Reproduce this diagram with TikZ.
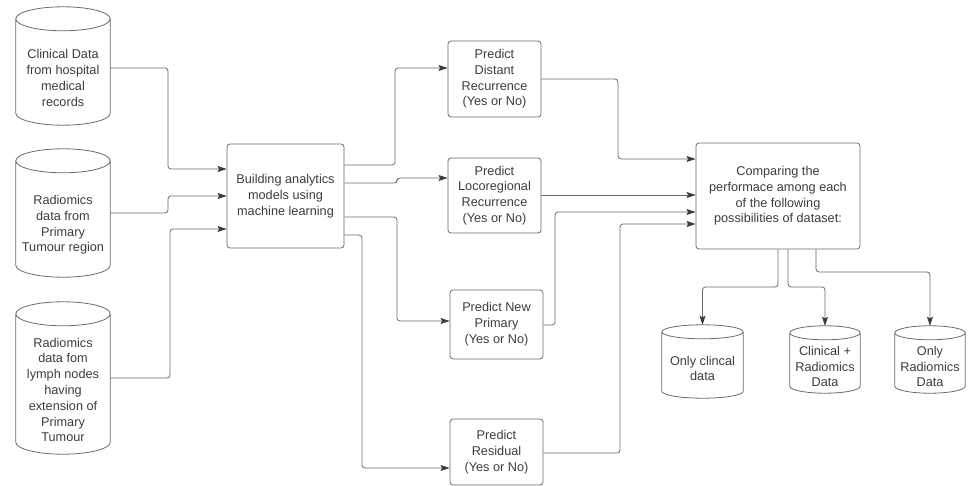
\documentclass[tikz,border=0pt]{standalone}
\usepackage{fontspec}
\setmainfont{Liberation Sans}
\usepackage{tikz}
\usetikzlibrary{arrows.meta,calc}
\definecolor{linegray}{HTML}{6A6A6A}
\definecolor{textgray}{HTML}{3C3C3C}

\begin{document}
\begin{tikzpicture}[x=1pt, y=-1pt,
  box/.style={draw=linegray, line width=0.8pt, rounded corners=3pt, align=center, text=textgray, font=\fontsize{12.7}{15.8}\selectfont, inner sep=0pt},
  store/.style={align=center, text=textgray, font=\fontsize{12.7}{15.8}\selectfont, inner sep=0pt},
  rim/.style={draw=linegray, line width=0.8pt},
  link/.style={draw=linegray, line width=0.8pt, rounded corners=3pt, -{Stealth[length=9pt,width=6pt,inset=1.5pt,color=textgray]}}]
\useasboundingbox (0,0) rectangle (969,486);

\node[store, minimum width=94pt, minimum height=94pt] (clin) at (63,78) {Clinical Data\\from hospital\\medical\\records};
\node[store, minimum width=94pt, minimum height=104pt] (radp) at (63,225) {Radiomics\\data from\\Primary\\Tumour region};
\node[store, minimum width=94pt, minimum height=128pt] (radl) at (63,390) {Radiomics\\data fom\\lymph nodes\\having\\extension of\\Primary\\Tumour};

\node[box, minimum width=117pt, minimum height=104pt] (build) at (285.5,196) {Building analytics\\models using\\machine learning};

\node[box, minimum width=93pt, minimum height=76pt] (dist) at (494.5,79) {Predict\\Distant\\Recurrence\\(Yes or No)};
\node[box, minimum width=93pt, minimum height=75pt] (loco) at (494.5,195.5) {Predict\\Locoregional\\Recurrence\\(Yes or No)};
\node[box, minimum width=93pt, minimum height=69pt] (newp) at (496.5,324.5) {Predict New\\Primary\\(Yes or No)};
\node[box, minimum width=93pt, minimum height=66pt] (resid) at (496.5,452) {Predict\\Residual\\(Yes or No)};

\node[box, minimum width=164pt, minimum height=106pt] (comp) at (778,196) {Comparing the\\performace among each\\of the following\\possibilities of dataset:};

\node[store, minimum width=81pt, minimum height=59pt] (oc) at (702.5,368.5) {Only clincal\\data};
\node[store, minimum width=70pt, minimum height=53pt] (cr) at (825,366.5) {Clinical +\\Radiomics\\Data};
\node[store, minimum width=70pt, minimum height=53pt] (orad) at (930,366.5) {Only\\Radiomics\\Data};

\foreach \cyl/\ry in {clin/12,radp/12,radl/12,oc/7,cr/7,orad/7}
  \draw[rim] let \p1=(\cyl.north west), \p2=(\cyl.south east), \n1={(\x2-\x1)/2} in
    ({\x1+\n1*1pt},{\y1+\ry*1pt}) ellipse [x radius={\n1*1pt}, y radius={\ry*1pt}]
    (\x1,{\y1+\ry*1pt}) -- (\x1,{\y2+\ry*1pt})
    arc[start angle=180, end angle=360, x radius={\n1*1pt}, y radius={\ry*1pt}]
    -- (\x2,{\y1+\ry*1pt});

\coordinate (oc top) at ([yshift=14pt]oc.north);
\coordinate (cr top) at ([yshift=14pt]cr.north);
\coordinate (orad top) at ([yshift=14pt]orad.north);

\draw[link] (clin.east |- 0,68) -- (168,68) |- (build.west |- 0,169);
\draw[link] (radp.east |- 0,213) -- (168,213) |- (build.west |- 0,196);
\draw[link] (radl.east |- 0,378) -- (170,378) |- (build.west |- 0,229);

\draw[link] (build.east |- 0,165) -- (395,165) |- (dist.west |- 0,68);
\draw[link] (build.east |- 0,183) -- (397,183) |- (loco.west |- 0,178);
\draw[link] (build.east |- 0,217) -- (397,217) |- (newp.west |- 0,321);
\draw[link] (build.east |- 0,235) -- (362,235) |- (resid.west |- 0,468);

\draw[link] (dist.east |- 0,79) -- (618,79) |- (comp.west |- 0,159);
\draw[link] (loco.east |- 0,195) -- (comp.west |- 0,195);
\draw[link] (newp.east |- 0,325) -- (555,325) |- (comp.west |- 0,212);
\draw[link] (resid.east |- 0,453) -- (620,453) |- (comp.west |- 0,224);

\draw[link] (comp.south -| 778,0) -- (778,287) -| (oc top);
\draw[link] (comp.south -| 788,0) -- (788,287) -| (cr top);
\draw[link] (comp.south -| 816,0) -- (816,272) -| (orad top);
\end{tikzpicture}
\end{document}
